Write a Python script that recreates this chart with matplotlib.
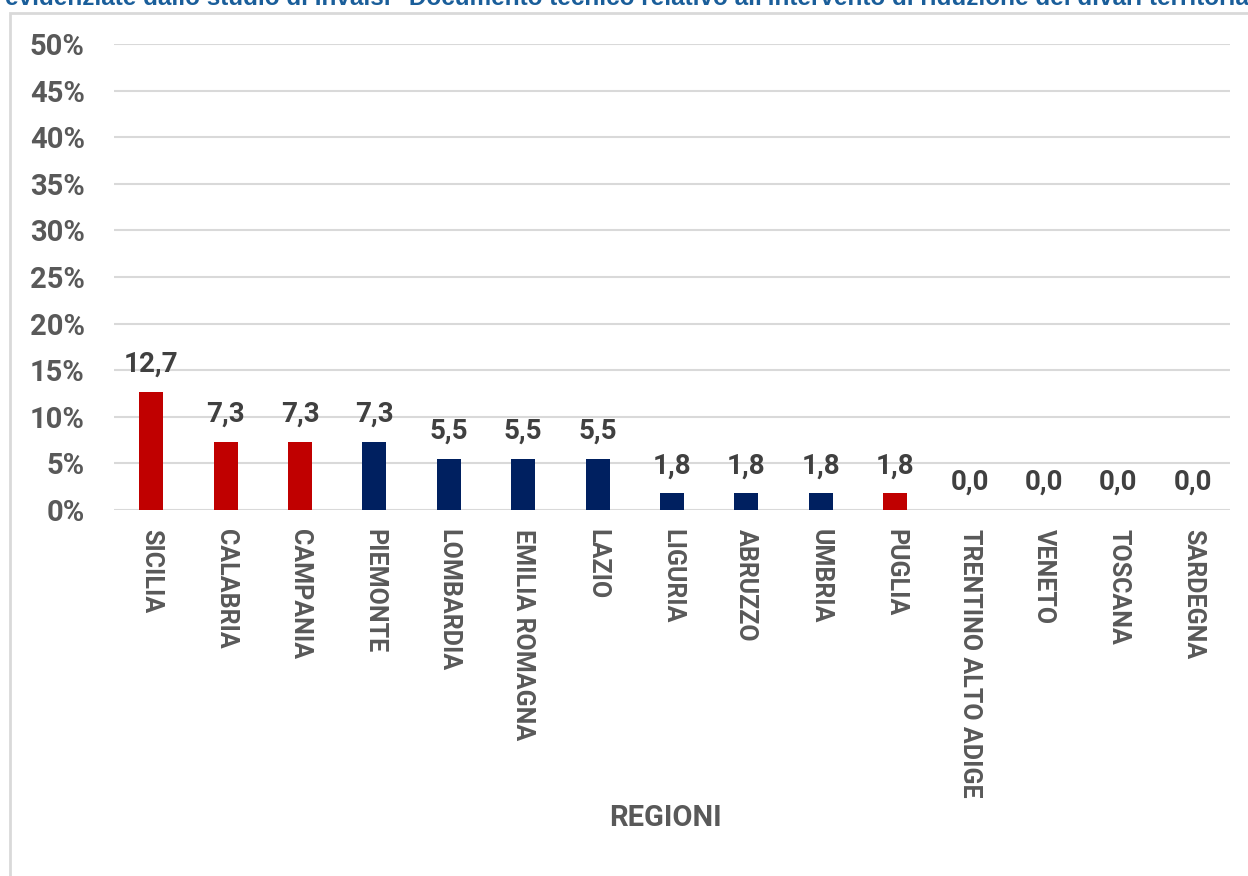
import matplotlib.pyplot as plt
from matplotlib.patches import Rectangle
from matplotlib.ticker import MultipleLocator, FuncFormatter

regioni = ['SICILIA', 'CALABRIA', 'CAMPANIA', 'PIEMONTE', 'LOMBARDIA', 'EMILIA ROMAGNA', 'LAZIO',
           'LIGURIA', 'ABRUZZO', 'UMBRIA', 'PUGLIA', 'TRENTINO ALTO ADIGE', 'VENETO', 'TOSCANA', 'SARDEGNA']
valori = [12.7, 7.3, 7.3, 7.3, 5.5, 5.5, 5.5, 1.8, 1.8, 1.8, 1.8, 0.0, 0.0, 0.0, 0.0]
sud = [True, True, True, False, False, False, False, False, False, False, True, False, False, False, False]

RED = '#c00000'
NAVY = '#002060'
GREY = '#595959'

plt.rcParams['font.family'] = ['Roboto', 'DejaVu Sans']

W, H = 1248, 876
fig = plt.figure(figsize=(W / 100, H / 100), dpi=100)

# cornice del grafico (tagliata in alto e a destra)
fig.patches.append(Rectangle((10 / W, -0.01), 1.0, 1 - 13 / H + 0.01, transform=fig.transFigure,
                             fill=False, edgecolor='#d9d9d9', linewidth=2))

fig.text(5 / W, 1 - 5 / H,
         'evidenziate dallo studio di Invalsi" Documento tecnico relativo all\'intervento di riduzione dei divari territoriali',
         color='#1a5e9a', fontsize=17.5, fontweight='bold', family='Liberation Sans',
         ha='left', va='baseline')

ax = fig.add_axes([114 / W, 1 - 510 / H, (1230 - 114) / W, (510 - 44) / H])
x = range(len(regioni))
colori = [RED if s else NAVY for s in sud]
ax.bar(x, valori, width=0.32, color=colori, zorder=3)

for xi, v in zip(x, valori):
    ax.text(xi, v + 1.5, f'{v:.1f}'.replace('.', ','), ha='center', va='bottom',
            fontsize=20, fontweight='bold', color='#404040')

ax.set_xlim(-0.5, len(regioni) - 0.5)
ax.set_ylim(0, 50)
ax.yaxis.set_major_locator(MultipleLocator(5))
ax.yaxis.set_major_formatter(FuncFormatter(lambda v, p: f'{v:.0f}%'))
ax.grid(axis='y', color='#d9d9d9', linewidth=1.5, zorder=0)
for s in ax.spines.values():
    s.set_visible(False)
ax.tick_params(length=0)
ax.tick_params(axis='y', labelsize=21, labelcolor=GREY, pad=21)
for lab in ax.get_yticklabels():
    lab.set_fontweight('bold')

ax.set_xticks(list(x))
ax.set_xticklabels(regioni, rotation=-90, fontsize=18, fontweight='bold', color=GREY, va='top', ha='center')
ax.tick_params(axis='x', pad=14)

fig.text(665 / W, 1 - 818 / H, 'REGIONI', ha='center', va='center', fontsize=21,
         fontweight='bold', color=GREY)

fig.savefig('out.png', dpi=100)
